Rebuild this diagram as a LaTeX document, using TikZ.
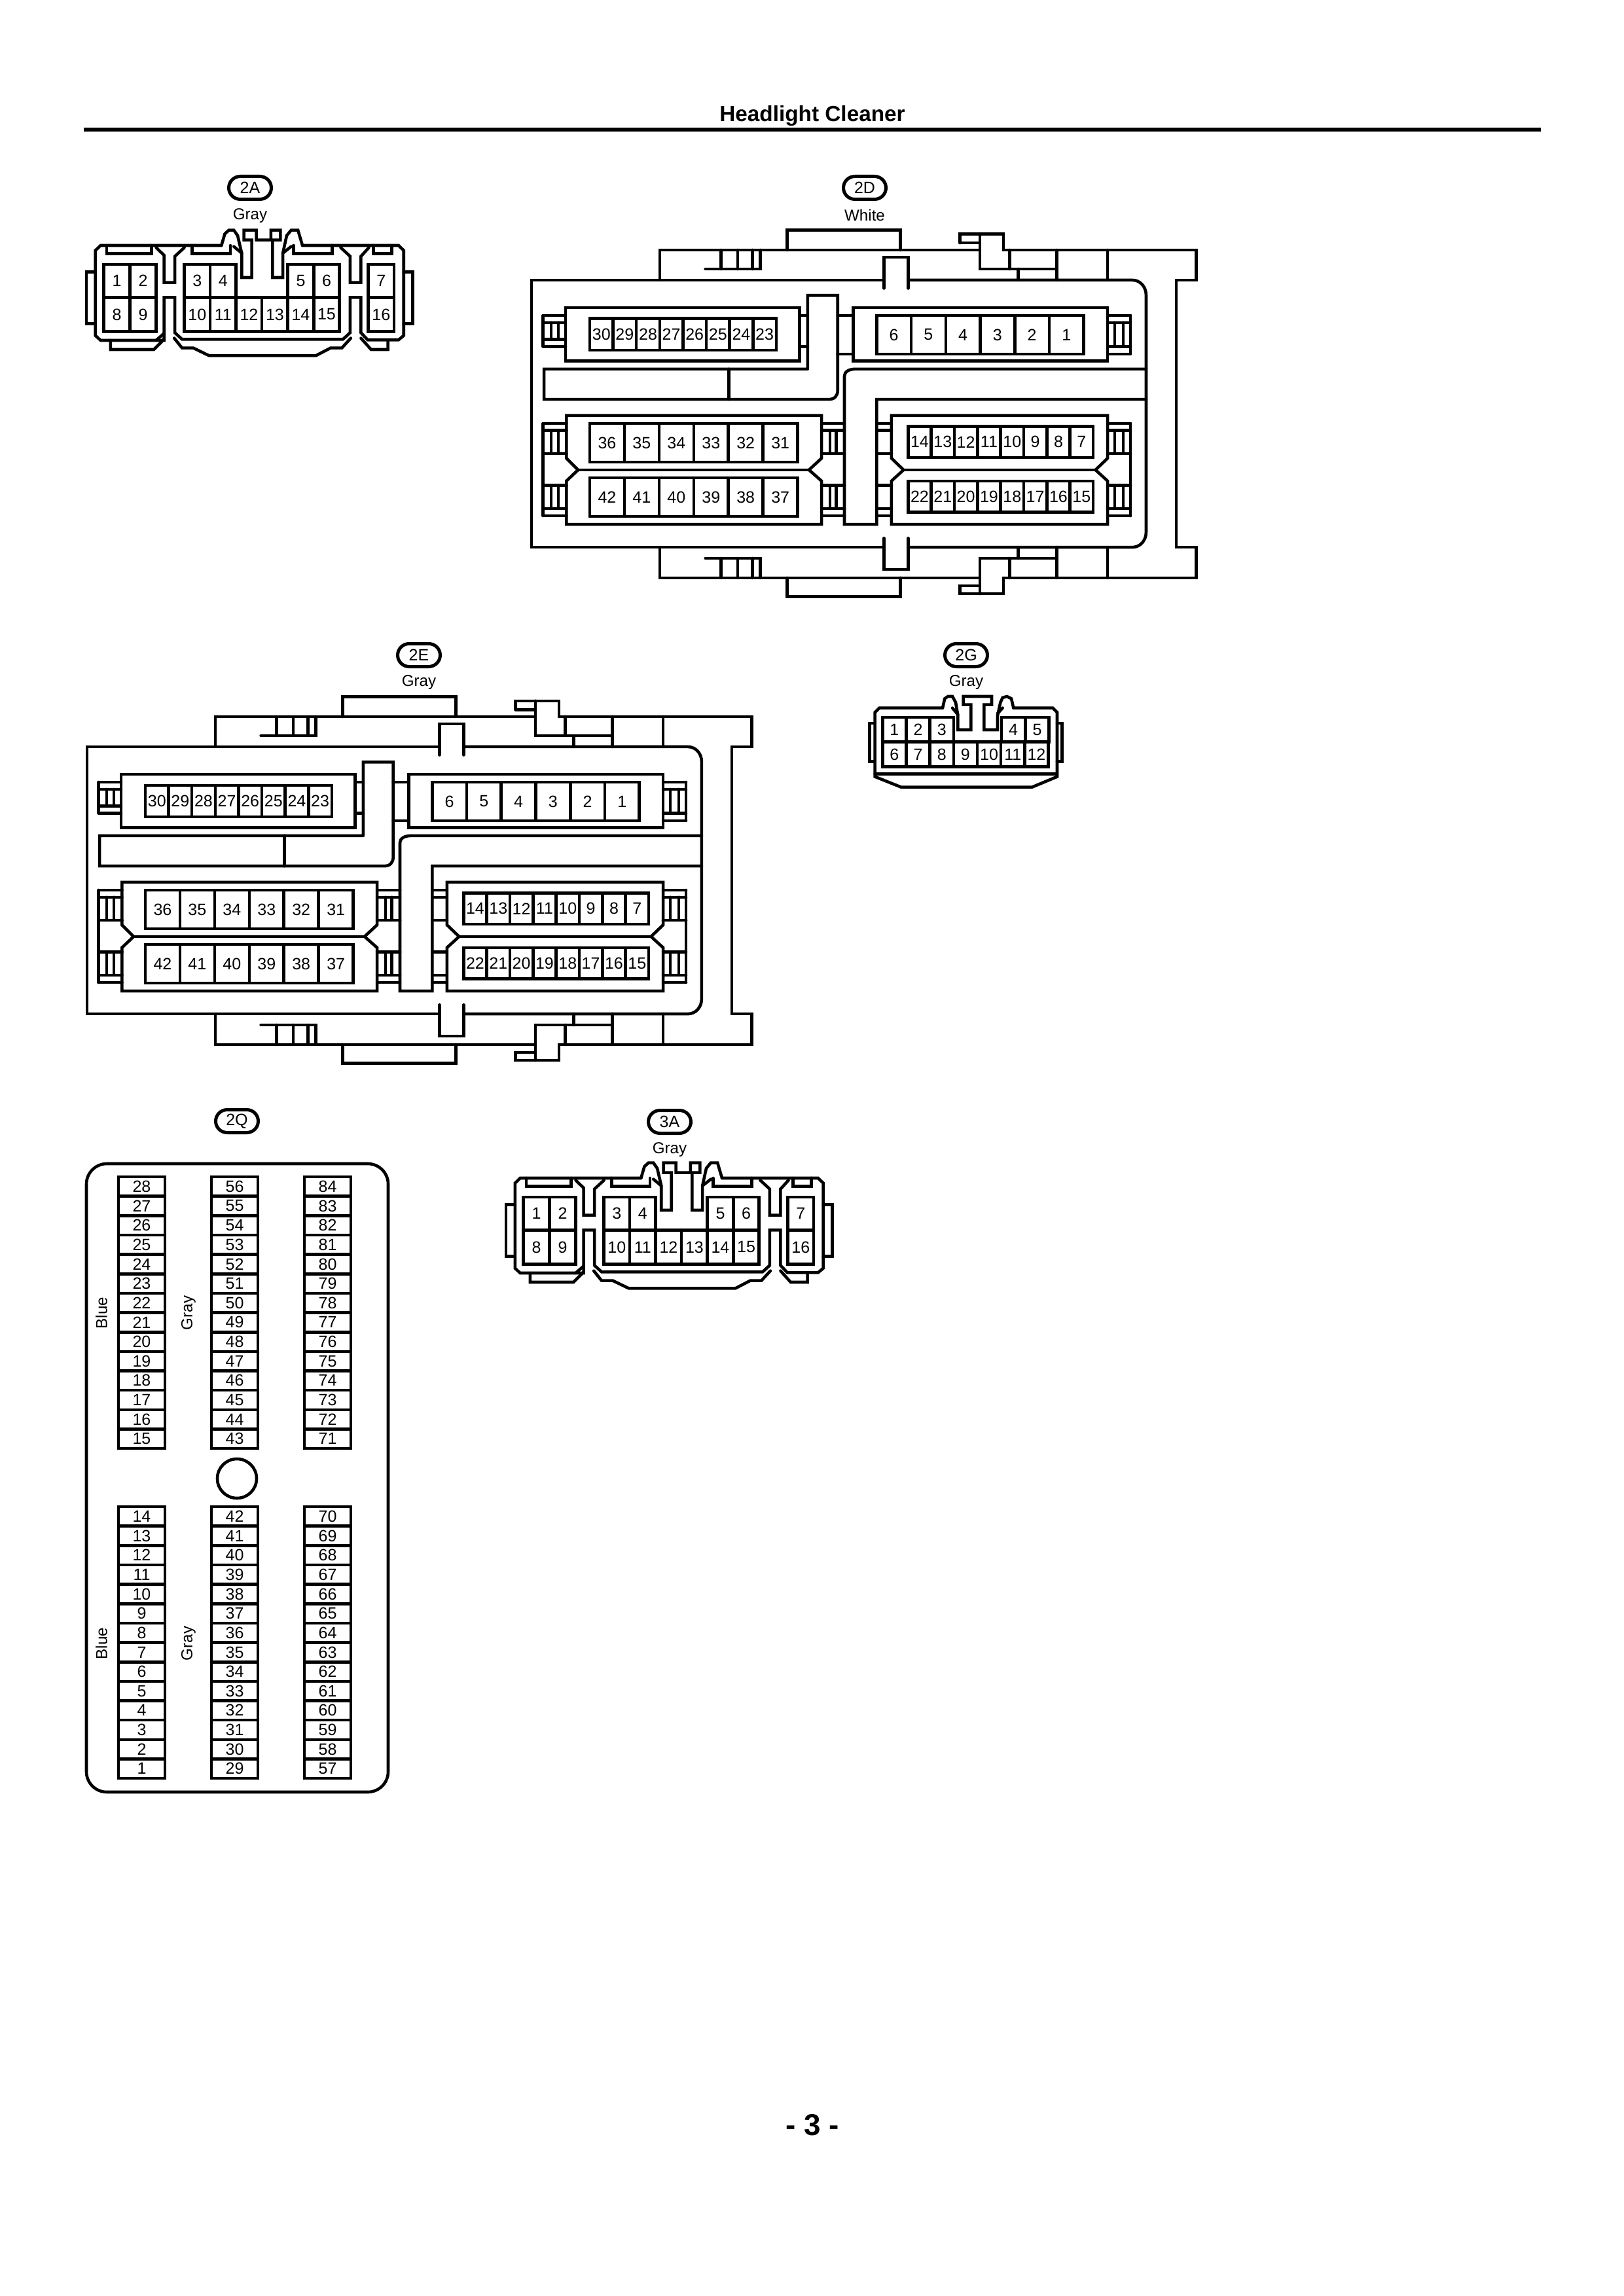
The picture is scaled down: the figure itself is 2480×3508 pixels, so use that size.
\documentclass[tikz,border=0pt]{standalone}
\usepackage{fontspec}
\setmainfont{Liberation Sans}
\tikzset{
  ln/.style={line width=1.1pt,line join=miter,line cap=round},
  pinlabel/.style={inner sep=0pt,font=\fontsize{6}{7}\selectfont},
  badge/.style={draw,line width=1.2pt,rounded corners=4.2pt,minimum width=15.6pt,minimum height=8.4pt,inner sep=0pt,font=\fontsize{6}{7}\selectfont},
  colourlabel/.style={inner sep=0pt,font=\fontsize{5.8}{7}\selectfont},
}
\newcommand{\pfx}{}
\newcommand{\pinrow}[5]{%
  \foreach \lab [count=\i from 0] in {#5} {
    \pgfmathsetmacro\xa{#1+\i*#2}
    \pgfmathsetmacro\xb{\xa+#2}
    \draw[ln] (\xa,#3) rectangle (\xb,#4);
    \node[pinlabel] (\pfx-\lab) at ({(\xa+\xb)/2},{(#3+#4)/2}) {\lab};
  }}
% small connector (2A, 3A)
\newcommand{\connA}[1]{%
  \renewcommand{\pfx}{#1}
  \draw[ln] (635,375)--(98,375)--(75,398)--(75,788)--(98,810)--(380,810)--(380,613)--(428,613)--(428,775)--(460,805)--(1175,805)--(1207,775)--(1207,613)--(1255,613)--(1255,775)--(1285,808)--(1422,808)--(1445,788)--(1445,398)--(1422,375)--(995,375);
  \draw[ln] (345,385)--(380,420)--(380,545)--(428,545)--(428,425)--(470,385);
  \draw[ln] (1165,385)--(1207,425)--(1207,545)--(1255,545)--(1255,425)--(1290,385);
  \draw[ln] (635,375)--(650,322)--(668,305)--(690,305)--(707,330)--(725,410)--(725,522)--(770,522)--(770,350)--(735,350)--(735,305)--(790,305)--(790,350)--(855,350)--(855,305)--(897,305)--(897,350)--(862,350)--(862,522)--(908,522)--(908,410)--(925,330)--(945,305)--(975,305)--(995,375);
  \draw[ln] (690,380)--(725,410);
  \draw[ln] (908,410)--(945,380);
  \draw[ln] (125,375)--(125,412)--(325,412)--(325,375);
  \draw[ln] (505,375)--(505,412)--(675,412)--(675,375);
  \draw[ln] (955,375)--(955,412)--(1128,412)--(1128,375);
  \draw[ln] (1310,375)--(1310,412)--(1392,412)--(1392,375);
  \draw[ln] (75,497)--(35,497)--(35,733)--(75,733);
  \draw[ln] (1445,497)--(1485,497)--(1485,733)--(1445,733);
  \draw[ln] (142,810)--(142,852)--(335,852)--(380,805);
  \draw[ln] (345,810)--(380,778);
  \draw[ln] (425,800)--(460,845)--(510,845)--(580,880)--(1055,880)--(1120,845)--(1170,845)--(1210,800);
  \draw[ln] (1255,800)--(1300,852)--(1375,852)--(1375,808);
  \pinrow{112}{116.5}{462}{613}{1,2}
  \pinrow{112}{116.5}{613}{770}{8,9}
  \pinrow{470}{115}{462}{613}{3,4}
  \pinrow{930}{115}{462}{613}{5,6}
  \pinrow{470}{115}{613}{770}{10,11,12,13,14,15}
  \pinrow{1288}{114}{462}{613}{7}
  \pinrow{1288}{114}{613}{770}{16}
}
\newcommand{\ladder}[7]{% x0 x1 rails, then tick positions
  \foreach \yy in {#3,#4,#5,#6} {\draw[ln] (#1,\yy)--(#2,\yy);}
  \foreach \xx in {#7} {\draw[ln] (\xx,#4)--(\xx,#5);}
}
% large connector (2D, 2E)
\newcommand{\connB}[1]{%
  \renewcommand{\pfx}{#1}
  \draw[ln] (818,440)--(818,330)--(872,330)--(872,440);
  \draw[ln] (818,1322)--(818,1432)--(872,1432)--(872,1322);
  \draw[ln] (872,411)--(1372,411) .. controls (1390,411) and (1403,435) .. (1403,465)--(1403,1300) .. controls (1403,1330) and (1390,1354) .. (1372,1354)--(872,1354);
  \draw[ln] (818,1354)--(32,1354)--(32,411)--(818,411);
  % upper shell
  \draw[ln] (318,411)--(318,305)--(1032,305);
  \draw[ln] (602,305)--(602,235)--(855,235)--(855,305);
  \draw[ln] (988,280)--(988,249)--(1085,249)--(1085,305)--(1515,305)--(1515,411)--(1470,411)--(1470,1354)--(1515,1354)--(1515,1462)--(1085,1462)--(1085,1518)--(988,1518)--(988,1490)--(1032,1490);
  \draw[ln] (988,280)--(1032,280);
  \draw[ln] (1032,249)--(1032,372)--(1204,372);
  \draw[ln] (1099,305)--(1099,372);
  \draw[ln] (1118,372)--(1118,411);
  \draw[ln] (1204,305)--(1204,411);
  \draw[ln] (1317,305)--(1317,411);
  \draw[ln] (1118,1354)--(1118,1393);
  \draw[ln] (1099,1393)--(1099,1462);
  \draw[ln] (1204,1354)--(1204,1462);
  \draw[ln] (1317,1354)--(1317,1462);
  % lower shell
  \draw[ln] (318,1354)--(318,1462)--(1032,1462);
  \draw[ln] (602,1462)--(602,1528)--(855,1528)--(855,1462);
  \draw[ln] (1032,1518)--(1032,1393)--(1204,1393);
  % shell ladders
  \draw[ln] (420,372)--(542,372)--(542,305);
  \draw[ln] (455,305)--(455,372) (492,305)--(492,372) (525,305)--(525,372);
  \draw[ln] (420,1393)--(542,1393)--(542,1462);
  \draw[ln] (455,1393)--(455,1462) (492,1393)--(492,1462) (525,1393)--(525,1462);
  % channels
  \draw[ln] (648,725)--(648,465)--(715,465)--(715,800) .. controls (715,820) and (708,832) .. (695,832)--(60,832)--(60,725)--(648,725);
  \draw[ln] (472,725)--(472,832);
  \draw[ln] (1403,725)--(755,725) .. controls (740,725) and (730,735) .. (730,750)--(730,1273)--(802,1273)--(802,832)--(1403,832);
  % housings
  \draw[ln] (108,508) rectangle (630,697);
  \draw[ln] (750,508) rectangle (1317,697);
  \draw[ln] (110,889)--(110,1040)--(136,1081)--(110,1120)--(110,1273)--(679,1273)--(679,1120)--(651,1081)--(679,1040)--(679,889)--cycle;
  \draw[ln] (136,1081)--(651,1081);
  \draw[ln] (835,889)--(835,1040)--(862,1081)--(835,1120)--(835,1273)--(1317,1273)--(1317,1120)--(1290,1081)--(1317,1040)--(1317,889)--cycle;
  \draw[ln] (862,1081)--(1290,1081);
  % rails
  \ladder{58}{108}{536}{561}{620}{645}{76,92}
  \draw[ln] (58,536)--(58,645);
  \draw[ln] (630,536)--(648,536) (630,645)--(648,645);
  \draw[ln] (715,536)--(750,536) (715,672)--(750,672);
  \ladder{1317}{1368}{536}{561}{645}{672}{1333,1352}
  \draw[ln] (1368,536)--(1368,672);
  \ladder{58}{110}{917}{942}{1023}{1023}{76,92}
  \ladder{58}{110}{1136}{1136}{1217}{1243}{76,92}
  \draw[ln] (58,917)--(58,1243);
  \ladder{679}{730}{917}{942}{1023}{1023}{698,712}
  \ladder{679}{730}{1136}{1136}{1217}{1243}{698,712}
  \ladder{802}{835}{917}{942}{1023}{1023}{}
  \ladder{802}{835}{1136}{1136}{1217}{1243}{}
  \ladder{1317}{1368}{917}{942}{1023}{1023}{1333,1352}
  \ladder{1317}{1368}{1136}{1136}{1217}{1243}{1333,1352}
  \draw[ln] (1368,917)--(1368,1243);
  % pins
  \pinrow{162}{52}{547}{658}{30,29,28,27,26,25,24,23}
  \pinrow{802}{77}{536}{672}{6,5,4,3,2,1}
  \pinrow{162}{77.3}{917}{1053}{36,35,34,33,32,31}
  \pinrow{162}{77.3}{1109}{1245}{42,41,40,39,38,37}
  \pinrow{872}{51.6}{928}{1037}{14,13,12,11,10,9,8,7}
  \pinrow{872}{51.6}{1120}{1230}{22,21,20,19,18,17,16,15}
}
% 2Q column
\newcommand{\qcolumn}[3]{% x, ytop, list top to bottom
  \foreach \lab [count=\i from 0] in {#3} {
    \pgfmathsetmacro\ya{#2+\i*29.65}
    \pgfmathsetmacro\yb{\ya+29.65}
    \draw[ln] (#1,\ya) rectangle (#1+71,\yb);
    \node[pinlabel] (2Q-\lab) at (#1+35.5,{(\ya+\yb)/2}) {\lab};
  }}
\begin{document}
\begin{tikzpicture}[x=0.24pt,y=-0.24pt]
\useasboundingbox (0,0) rectangle (2480,3508);
% header
\node[inner sep=0pt,font=\fontsize{8}{9}\selectfont\bfseries] (title) at (1241,177) {Headlight Cleaner};
\coordinate (ruleL) at (128,198);
\coordinate (ruleR) at (2354,198);
\draw[line width=1.4pt] (ruleL)--(ruleR);
\node[inner sep=0pt,font=\fontsize{11}{13}\selectfont\bfseries] (page) at (1241,3247) {- 3 -};
% 2A
\node[badge] (b2A) at (382,287) {2A};
\node[colourlabel] (c2A) at (382,330) {Gray};
\begin{scope}[shift={(120,250)},x=0.0825pt,y=-0.08pt]
\connA{2A}
\end{scope}
% 3A
\node[badge] (b3A) at (1023,1714) {3A};
\node[colourlabel] (c3A) at (1023,1757) {Gray};
\begin{scope}[shift={(761,1675)},x=0.0825pt,y=-0.08pt]
\connA{3A}
\end{scope}
% 2D
\node[badge] (b2D) at (1321,287) {2D};
\node[colourlabel] (c2D) at (1321,329) {White};
\begin{scope}[shift={(790,250)},x=0.16438pt,y=-0.1039pt]
\connB{2D}
\end{scope}
% 2E
\node[badge] (b2E) at (640,1001) {2E};
\node[colourlabel] (c2E) at (640,1043) {Gray};
\begin{scope}[shift={(111,963)},x=0.16438pt,y=-0.1039pt]
\connB{2E}
\end{scope}
% 2G
\node[badge] (b2G) at (1476,1001) {2G};
\node[colourlabel] (c2G) at (1476,1043) {Gray};
\begin{scope}[shift={(1300,960)},x=0.08pt,y=-0.08pt]
\renewcommand{\pfx}{2G}
\draw[ln] (420,365)--(130,365)--(110,385)--(110,680)--(230,728)--(830,728)--(945,680)--(945,385)--(925,365)--(745,365);
\draw[ln] (110,668)--(945,668);
\draw[ln] (110,435)--(85,435)--(85,610)--(110,610);
\draw[ln] (945,435)--(968,435)--(968,610)--(945,610);
\draw[ln] (420,365)--(430,322)--(445,312)--(465,312)--(480,340)--(490,400)--(490,465)--(550,465)--(550,350)--(515,350)--(515,312)--(645,312)--(645,350)--(610,350)--(610,465)--(672,465)--(672,400)--(685,340)--(695,318)--(715,312)--(735,322)--(745,365);
\draw[ln] (465,365)--(490,395);
\draw[ln] (672,390)--(695,365);
\pinrow{145}{108.5}{408}{520}{1,2,3}
\pinrow{690}{109}{408}{520}{4,5}
\pinrow{145}{108.5}{520}{635}{6,7,8,9,10,11,12}
\end{scope}
% 2Q
\node[badge] (b2Q) at (362,1713) {2Q};
\draw[ln,rounded corners=7.5pt] (132,1778) rectangle (593,2738);
\node[circle,draw,line width=1.1pt,minimum size=14.4pt,inner sep=0pt] (hole) at (362,2259) {};
\node[colourlabel,rotate=90] (q1) at (155,2006) {Blue};
\node[colourlabel,rotate=90] (q2) at (288,2006) {Gray};
\node[colourlabel,rotate=90] (q3) at (155,2511) {Blue};
\node[colourlabel,rotate=90] (q4) at (288,2511) {Gray};
\qcolumn{181}{1798}{28,27,26,25,24,23,22,21,20,19,18,17,16,15}
\qcolumn{323}{1798}{56,55,54,53,52,51,50,49,48,47,46,45,44,43}
\qcolumn{465}{1798}{84,83,82,81,80,79,78,77,76,75,74,73,72,71}
\qcolumn{181}{2302}{14,13,12,11,10,9,8,7,6,5,4,3,2,1}
\qcolumn{323}{2302}{42,41,40,39,38,37,36,35,34,33,32,31,30,29}
\qcolumn{465}{2302}{70,69,68,67,66,65,64,63,62,61,60,59,58,57}
\end{tikzpicture}
\end{document}
